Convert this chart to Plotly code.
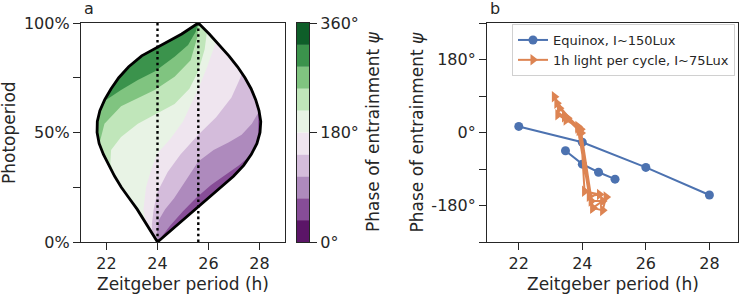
import plotly.graph_objects as go

W, H = 744, 296
FONT = "DejaVu Sans"
INK = "#262626"

# ---------------- Panel a data ----------------
# lens (entrainment region) boundary: photoperiod -> Zeitgeber period
bound_p = [0.0, 0.05, 0.10, 0.15, 0.20, 0.25, 0.30, 0.35, 0.40, 0.45, 0.50,
           0.55, 0.60, 0.65, 0.70, 0.75, 0.80, 0.85, 0.90, 0.95, 1.0]
left_T = [24.0, 23.74, 23.48, 23.2, 22.89, 22.58, 22.32, 22.1, 21.88, 21.71, 21.63,
          21.64, 21.74, 21.93, 22.18, 22.48, 22.87, 23.38, 24.16, 24.95, 25.6]
right_T = [24.0, 24.5, 24.98, 25.5, 26.0, 26.5, 26.98, 27.38, 27.68, 27.9, 28.02,
           28.05, 27.98, 27.85, 27.67, 27.43, 27.14, 26.8, 26.43, 26.03, 25.6]

# phase contour levels (deg) and colours of the 10 bands
levels = [0, 36, 72, 108, 144, 180, 216, 252, 288, 324, 360]
band_colors = ["#5b1567", "#874d97", "#ae8abd", "#d4bcdb", "#efe5ef",
               "#e8f3e5", "#c0e6ba", "#80c480", "#3b934c", "#0e5e29"]

# contour lines (T [h], photoperiod)
c72_T = [24.0, 24.5, 25.0, 25.5, 26.1, 26.65, 27.2, 27.6, 27.95]
c72_p = [0.0, 0.075, 0.14, 0.2, 0.26, 0.307, 0.35, 0.39, 0.45]
c108_T = [24.0, 23.98, 24.05, 24.3, 24.65, 25.1, 25.6, 26.2, 26.8, 27.3, 27.7, 28.0, 28.15]
c108_p = [0.0, 0.05, 0.1, 0.15, 0.2, 0.28, 0.368, 0.42, 0.455, 0.49, 0.54, 0.6, 0.64]
c144_T = [23.8, 23.78, 23.85, 24.0, 24.4, 24.9, 25.6, 26.3, 26.9, 27.25, 27.4]
c144_p = [0.0, 0.08, 0.15, 0.23, 0.32, 0.40, 0.49, 0.57, 0.66, 0.75, 0.82]
c180_T = [23.55, 23.45, 23.55, 23.75, 24.0, 24.5, 25.0, 25.6, 25.95, 26.2, 26.4]
c180_p = [0.08, 0.15, 0.25, 0.33, 0.405, 0.47, 0.55, 0.70, 0.80, 0.88, 0.95]
c216_T = [22.4, 22.15, 22.18, 22.57, 23.23, 23.89, 24.67, 25.25, 25.6, 25.85, 25.95]
c216_p = [0.27, 0.36, 0.42, 0.48, 0.54, 0.58, 0.63, 0.70, 0.78, 0.88, 0.97]
c252_T = [21.7, 21.92, 22.57, 23.23, 23.89, 24.67, 25.3, 25.55, 25.62]
c252_p = [0.44, 0.54, 0.62, 0.656, 0.694, 0.755, 0.83, 0.93, 1.0]
c288_T = [21.75, 21.98, 22.57, 23.23, 23.89, 24.67, 25.2, 25.5, 25.6]
c288_p = [0.6, 0.648, 0.694, 0.74, 0.778, 0.846, 0.9, 0.96, 1.0]

contours = [(72, c72_T, c72_p), (108, c108_T, c108_p), (144, c144_T, c144_p),
            (180, c180_T, c180_p), (216, c216_T, c216_p), (252, c252_T, c252_p),
            (288, c288_T, c288_p)]

ref_T = [24.0, 25.6]          # dotted reference periods

# ---------------- Panel b data ----------------
eq_T = [22, 24, 26, 28]
eq_psi = [15, -24, -86, -154]
eq2_T = [23.47, 24.0, 24.51, 25.03]
eq2_psi = [-45, -78, -98, -115]
pulse_T = [23.12, 23.54, 23.96, 24.07, 24.54, 24.22, 23.86, 23.2, 23.28, 23.86, 24.28,
           24.64, 24.33, 23.9, 23.44, 23.23, 23.49, 23.95, 24.33, 24.64, 24.75]
pulse_psi = [88, 35, -1, -145, -153, -157, 11, 72, 60, 15, -169,
             -169, -186, 5, 39, 44, 31, 8, -186, -192, -159]

XR_A = [21, 29]
XR_B = [21, 28.9]
YR_B = [-270, 270]

BLUE = "#4c72b0"
ORANGE = "#dd8452"

fig = go.Figure()

# lens base band
lens_T = left_T + right_T[::-1]
lens_p = bound_p + bound_p[::-1]
fig.add_trace(go.Scatter(x=lens_T, y=lens_p, mode="lines", fill="toself",
                         fillcolor=band_colors[levels.index(36)], line=dict(width=0),
                         hoverinfo="skip", showlegend=False, xaxis="x", yaxis="y"))

# regions above each contour
xlo, xhi = XR_A[0] - 1, XR_A[1] + 1
for lev, cT, cp in contours:
    xs = list(cT) + [cT[-1], xlo, xlo]
    ys = list(cp) + [1.2, 1.2, cp[0]]
    fig.add_trace(go.Scatter(x=xs, y=ys, mode="lines", fill="toself",
                             fillcolor=band_colors[levels.index(lev)], line=dict(width=0),
                             hoverinfo="skip", showlegend=False, xaxis="x", yaxis="y"))

# white mask outside the lens (outer rectangle with lens hole)
mask_T = [xlo, xhi, xhi, xlo, xlo] + left_T + right_T[::-1] + [xlo]
mask_p = [-0.2, -0.2, 1.2, 1.2, -0.2] + bound_p + bound_p[::-1] + [-0.2]
fig.add_trace(go.Scatter(x=mask_T, y=mask_p, mode="lines", fill="toself",
                         fillcolor="white", line=dict(width=0),
                         hoverinfo="skip", showlegend=False, xaxis="x", yaxis="y"))

# dotted reference lines
for t in ref_T:
    fig.add_trace(go.Scatter(x=[t, t], y=[0, 1], mode="lines",
                             line=dict(color="black", width=2.4, dash="2.6px,3.1px"),
                             hoverinfo="skip", showlegend=False, xaxis="x", yaxis="y"))

# lens outline
for bT in (left_T, right_T):
    fig.add_trace(go.Scatter(x=bT, y=bound_p, mode="lines",
                             line=dict(color="black", width=2.8),
                             hoverinfo="skip", showlegend=False, xaxis="x", yaxis="y"))

# colour bar as stacked bands
fig.add_trace(go.Bar(x=[0] * 10, y=[levels[i + 1] - levels[i] for i in range(10)],
                     base=levels[:-1], marker=dict(color=band_colors, line=dict(width=0)),
                     width=1.0, showlegend=False, hoverinfo="skip",
                     xaxis="x2", yaxis="y2"))

# panel b
fig.add_trace(go.Scatter(x=eq_T, y=eq_psi, mode="lines+markers", name="Equinox, I~150Lux",
                         line=dict(color=BLUE, width=2), marker=dict(size=9, color=BLUE),
                         xaxis="x3", yaxis="y3", legendrank=1))
fig.add_trace(go.Scatter(x=eq2_T, y=eq2_psi, mode="lines+markers", showlegend=False,
                         line=dict(color=BLUE, width=2), marker=dict(size=9, color=BLUE),
                         xaxis="x3", yaxis="y3"))
fig.add_trace(go.Scatter(x=pulse_T, y=pulse_psi, mode="lines+markers",
                         name="1h light per cycle, I~75Lux",
                         line=dict(color=ORANGE, width=2),
                         marker=dict(size=10, color=ORANGE, symbol="triangle-right"),
                         xaxis="x3", yaxis="y3", legendrank=2))


def px(x):
    return x / W


def py(y):
    return 1 - y / H


ax = dict(showline=True, linecolor=INK, linewidth=1.25, mirror=True, ticks="outside",
          ticklen=7, tickwidth=1.25, tickcolor=INK, showgrid=False, zeroline=False,
          automargin=False, tickfont=dict(size=16, color=INK, family=FONT))

ydom = [py(242), py(23)]
fig.update_layout(
    width=W, height=H, margin=dict(l=0, r=0, t=0, b=0, autoexpand=False), autosize=False,
    paper_bgcolor="white", plot_bgcolor="white", barmode="overlay",
    font=dict(family=FONT, color=INK),
    xaxis=dict(ax, domain=[px(81), px(285)], range=XR_A, tickvals=[22, 24, 26, 28], anchor="y"),
    yaxis=dict(ax, domain=ydom, range=[0, 1], tickvals=[0, 0.25, 0.5, 0.75, 1],
               ticktext=["0%", "", "50%", "", "100%"], anchor="x"),
    xaxis2=dict(ax, domain=[px(297), px(309)], range=[-0.5, 0.5], ticks="",
                showticklabels=False, anchor="y2"),
    yaxis2=dict(ax, domain=ydom, range=[0, 360], side="right", tickvals=[0, 180, 360],
                ticktext=["0°", "180°", "360°"], anchor="x2"),
    xaxis3=dict(ax, domain=[px(487), px(738)], range=XR_B, tickvals=[22, 24, 26, 28], anchor="y3"),
    yaxis3=dict(ax, domain=ydom, range=YR_B, tickvals=[-270, -180, -90, 0, 90, 180, 270],
                ticktext=["", "-180°", "", "0°", "", "180°", ""], anchor="x3"),
    legend=dict(x=px(512), y=py(24), xanchor="left", yanchor="top",
                bgcolor="rgba(255,255,255,0.8)", bordercolor="#d0d0d0", borderwidth=1,
                font=dict(size=13, family=FONT, color=INK), tracegroupgap=0),
)

ann = [
    dict(text="a", x=px(81.5), y=py(8.5), xanchor="left", yanchor="middle", font=dict(size=16)),
    dict(text="b", x=px(487.5), y=py(8.5), xanchor="left", yanchor="middle", font=dict(size=16)),
    dict(text="Photoperiod", x=px(8.5), y=py(132.5), textangle=-90, font=dict(size=17)),
    dict(text="Zeitgeber period (h)", x=px(183), y=py(284), font=dict(size=17)),
    dict(text="Zeitgeber period (h)", x=px(612.5), y=py(284), font=dict(size=17)),
    dict(text="Phase of entrainment <i>ψ</i>", x=px(372.5), y=py(131.5), textangle=-90,
         font=dict(size=17)),
    dict(text="Phase of entrainment <i>ψ</i>", x=px(416), y=py(131.5), textangle=-90,
         font=dict(size=17)),
]
for a in ann:
    a.update(xref="paper", yref="paper", showarrow=False)
    a.setdefault("xanchor", "center")
    a.setdefault("yanchor", "middle")
    a["font"] = dict(a["font"], family=FONT, color=INK)
fig.update_layout(annotations=ann)

fig.write_html("out.html", config={"displayModeBar": False},
               post_script="document.body.style.margin='0px';document.body.style.padding='0px';")
